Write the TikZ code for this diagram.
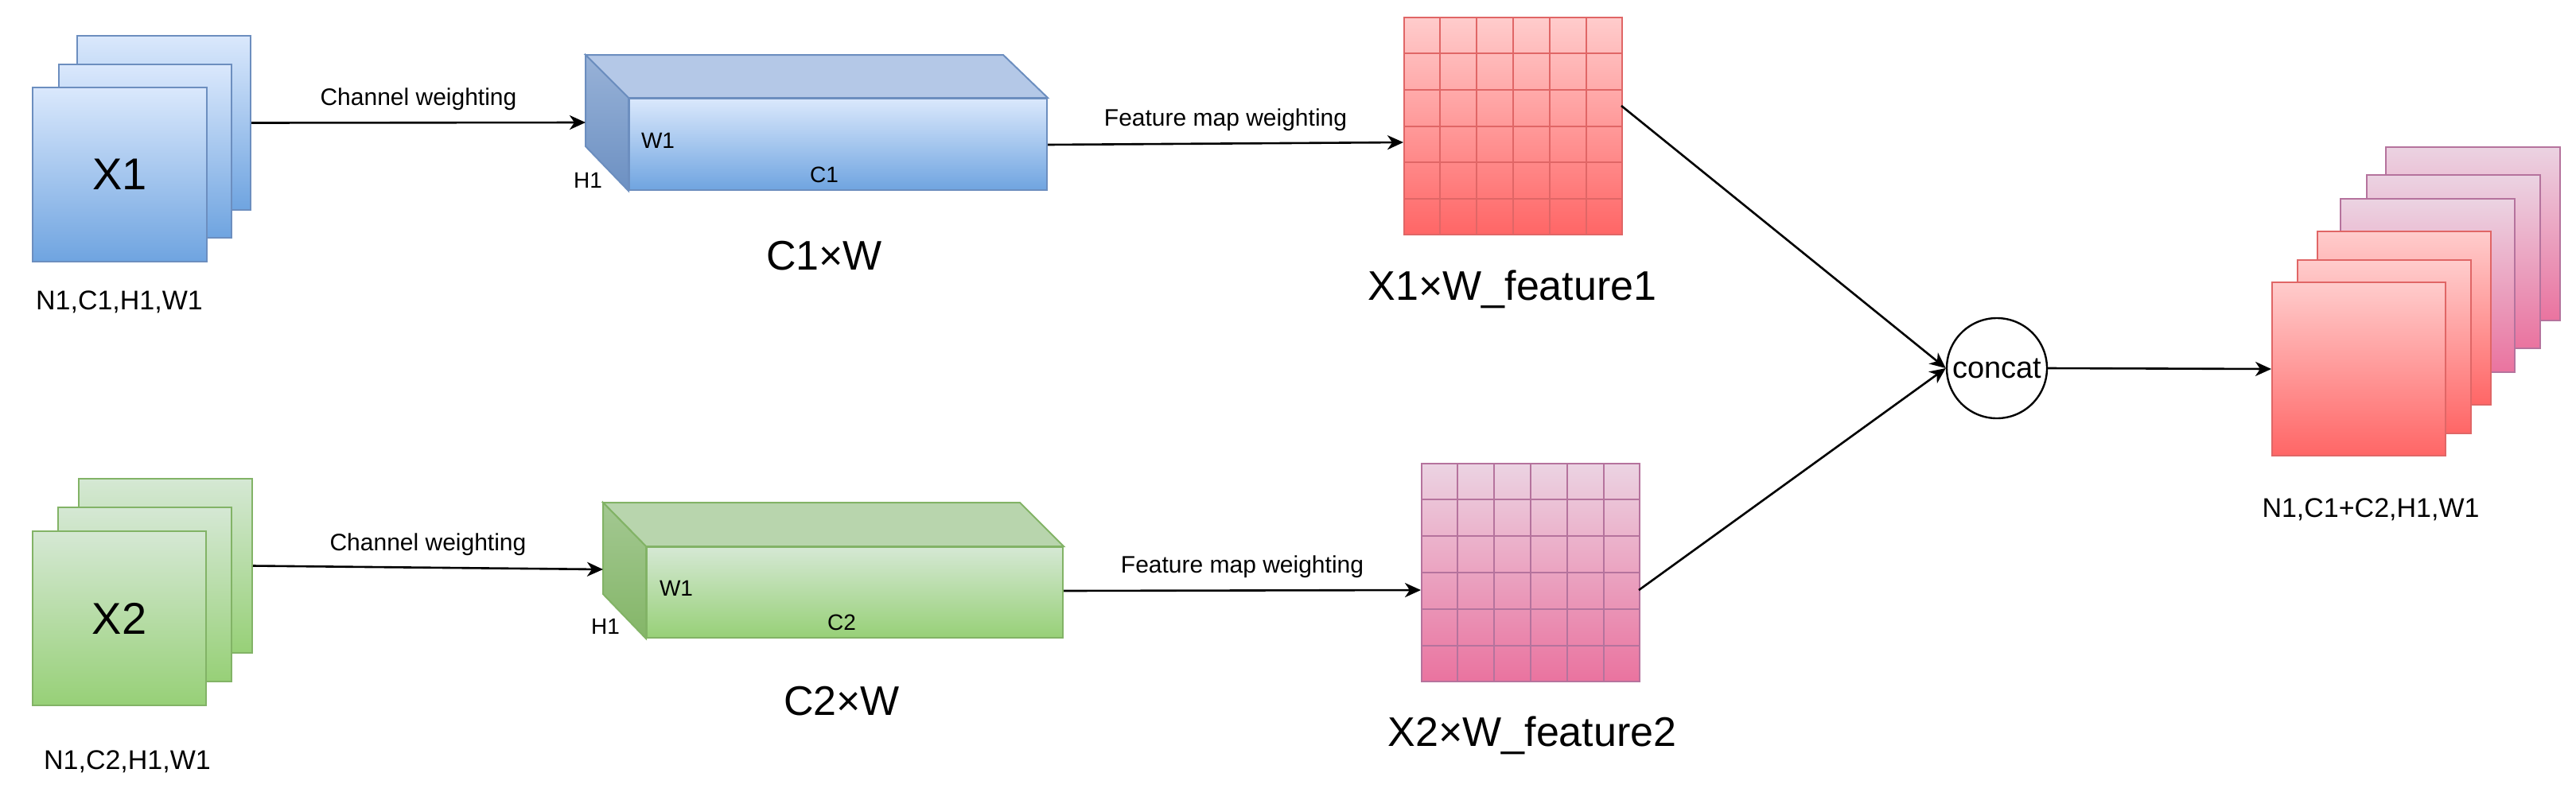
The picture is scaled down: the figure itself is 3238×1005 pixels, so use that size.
\documentclass[tikz,border=0pt]{standalone}
\usepackage{fontspec}
\setmainfont{Liberation Sans}
\usetikzlibrary{calc,arrows.meta}
\definecolor{bS}{HTML}{6C8EBF}\definecolor{bT}{HTML}{DAE8FC}\definecolor{bB}{HTML}{6FA4E0}
\definecolor{gS}{HTML}{82B366}\definecolor{gT}{HTML}{D5E8D4}\definecolor{gB}{HTML}{97D077}
\definecolor{rS}{HTML}{E06666}\definecolor{rT}{HTML}{FFCCCC}\definecolor{rB}{HTML}{FF6666}
\definecolor{pS}{HTML}{B5739D}\definecolor{pT}{HTML}{EBD3E2}\definecolor{pB}{HTML}{EA739F}
\tikzset{
  box/.style={rectangle,inner sep=0pt,anchor=north west,line width=2pt},
  bluebox/.style={box,draw=bS,top color=bT,bottom color=bB},
  greenbox/.style={box,draw=gS,top color=gT,bottom color=gB},
  redbox/.style={box,draw=rS,top color=rT,bottom color=rB},
  pinkbox/.style={box,draw=pS,top color=pT,bottom color=pB},
  arr/.style={draw=black,line width=2.6pt,-{Stealth[length=20pt,width=18pt,inset=6pt]}},
  small/.style={font=\fontsize{30}{36}\selectfont,inner sep=0pt},
  tiny/.style={font=\fontsize{28}{34}\selectfont,inner sep=0pt},
  lbl/.style={font=\fontsize{34}{40}\selectfont,inner sep=0pt},
  big/.style={font=\fontsize{52}{60}\selectfont,inner sep=0pt},
  xl/.style={font=\fontsize{56}{64}\selectfont},
}
\begin{document}
\begin{tikzpicture}[x=1pt,y=-1pt]
\useasboundingbox (0,0) rectangle (3238,1005);
% ---- X1 stack
\node[bluebox,minimum width=218pt,minimum height=219pt] (x1c) at (96,44) {};
\node[bluebox,minimum width=217pt,minimum height=218pt] (x1b) at (73,80) {};
\node[bluebox,minimum width=219pt,minimum height=219pt,xl] (x1a) at (40,109) {X1};
\node[lbl] (lx1) at (150,380) {N1,C1,H1,W1};
% ---- X2 stack
\node[greenbox,minimum width=218pt,minimum height=219pt] (x2c) at (98,601) {};
\node[greenbox,minimum width=218pt,minimum height=219pt] (x2b) at (72,637) {};
\node[greenbox,minimum width=218pt,minimum height=219pt,xl] (x2a) at (40,667) {X2};
\node[lbl] (lx2) at (160,958) {N1,C2,H1,W1};
% ---- cuboid 1
\node[bluebox,minimum width=525pt,minimum height=115pt] (c1) at (790,123) {};
\fill[bS!35!bT,draw=bS,line width=2pt] (c1.north west) -- ++(-54,-54) -- ++(525,0) -- (c1.north east) -- cycle;
\shade[top color=bS!60!bT,bottom color=bS!90!bB,draw=bS,line width=2pt] (c1.north west) -- ++(-54,-54) -- ++(0,115) -- (c1.south west) -- cycle;
\coordinate (c1in) at (736,154);
\node[tiny] at (827,177) {W1};
\node[tiny] at (739,227) {H1};
\node[tiny] at (1036,220) {C1};
\node[big] (lc1) at (1036,322) {C1×W};
% ---- cuboid 2
\node[greenbox,minimum width=523pt,minimum height=114pt] (c2) at (812,687) {};
\fill[gS!35!gT,draw=gS,line width=2pt] (c2.north west) -- ++(-54,-55) -- ++(524,0) -- (c2.north east) -- cycle;
\shade[top color=gS!60!gT,bottom color=gS!90!gB,draw=gS,line width=2pt] (c2.north west) -- ++(-54,-55) -- ++(0,115) -- (c2.south west) -- cycle;
\coordinate (c2in) at (758,716);
\node[tiny] at (850,740) {W1};
\node[tiny] at (761,788) {H1};
\node[tiny] at (1058,783) {C2};
\node[big] (lc2) at (1058,882) {C2×W};
% ---- grids
\node[redbox,minimum width=274pt,minimum height=273pt] (g1) at (1764,21) {};
\node[pinkbox,minimum width=274pt,minimum height=274pt] (g2) at (1786,582) {};
\foreach \i in {1,...,5}{
  \draw[rS,line width=2pt] ($(g1.north west)!\i/6!(g1.north east)$) -- ($(g1.south west)!\i/6!(g1.south east)$);
  \draw[rS,line width=2pt] ($(g1.north west)!\i/6!(g1.south west)$) -- ($(g1.north east)!\i/6!(g1.south east)$);
  \draw[pS,line width=2pt] ($(g2.north west)!\i/6!(g2.north east)$) -- ($(g2.south west)!\i/6!(g2.south east)$);
  \draw[pS,line width=2pt] ($(g2.north west)!\i/6!(g2.south west)$) -- ($(g2.north east)!\i/6!(g2.south east)$);
}
\node[big] (lg1) at (1901,364) {X1×W\_feature1};
\node[big] (lg2) at (1926,925) {X2×W\_feature2};
% ---- concat
\node[circle,draw=black,line width=2.4pt,minimum size=126pt,inner sep=0pt,font=\fontsize{38}{44}\selectfont] (cc) at (2510,463) {concat};
% ---- output stack
\node[pinkbox,minimum width=219pt,minimum height=218pt] (o6) at (2998,184) {};
\node[pinkbox,minimum width=218pt,minimum height=218pt] (o5) at (2974,219) {};
\node[pinkbox,minimum width=219pt,minimum height=218pt] (o4) at (2941,249) {};
\node[redbox,minimum width=218pt,minimum height=218pt] (o3) at (2912,290) {};
\node[redbox,minimum width=218pt,minimum height=218pt] (o2) at (2887,326) {};
\node[redbox,minimum width=218pt,minimum height=218pt] (o1) at (2855,354) {};
\node[lbl] (lo) at (2980,641) {N1,C1+C2,H1,W1};
% ---- connectors
\coordinate (g1in) at (1764,179);
\coordinate (g2in) at (1786,742);
\coordinate (g1out) at (2038,133);
\coordinate (g2out) at (2060,742);
\draw[arr] (x1c.east) -- node[small,above=14pt]{Channel weighting} (c1in);
\draw[arr] (x2c.east) -- node[small,above=14pt]{Channel weighting} (c2in);
\draw[arr] (c1.east |- 0,182) -- node[small,above=14pt]{Feature map weighting} (g1in);
\draw[arr] (c2.east |- 0,743) -- node[small,above=14pt]{Feature map weighting} (g2in);
\draw[arr] (g1out) -- (cc.west);
\draw[arr] (g2out) -- (cc.west);
\draw[arr] (cc.east) -- (o1.west);
\end{tikzpicture}
\end{document}
